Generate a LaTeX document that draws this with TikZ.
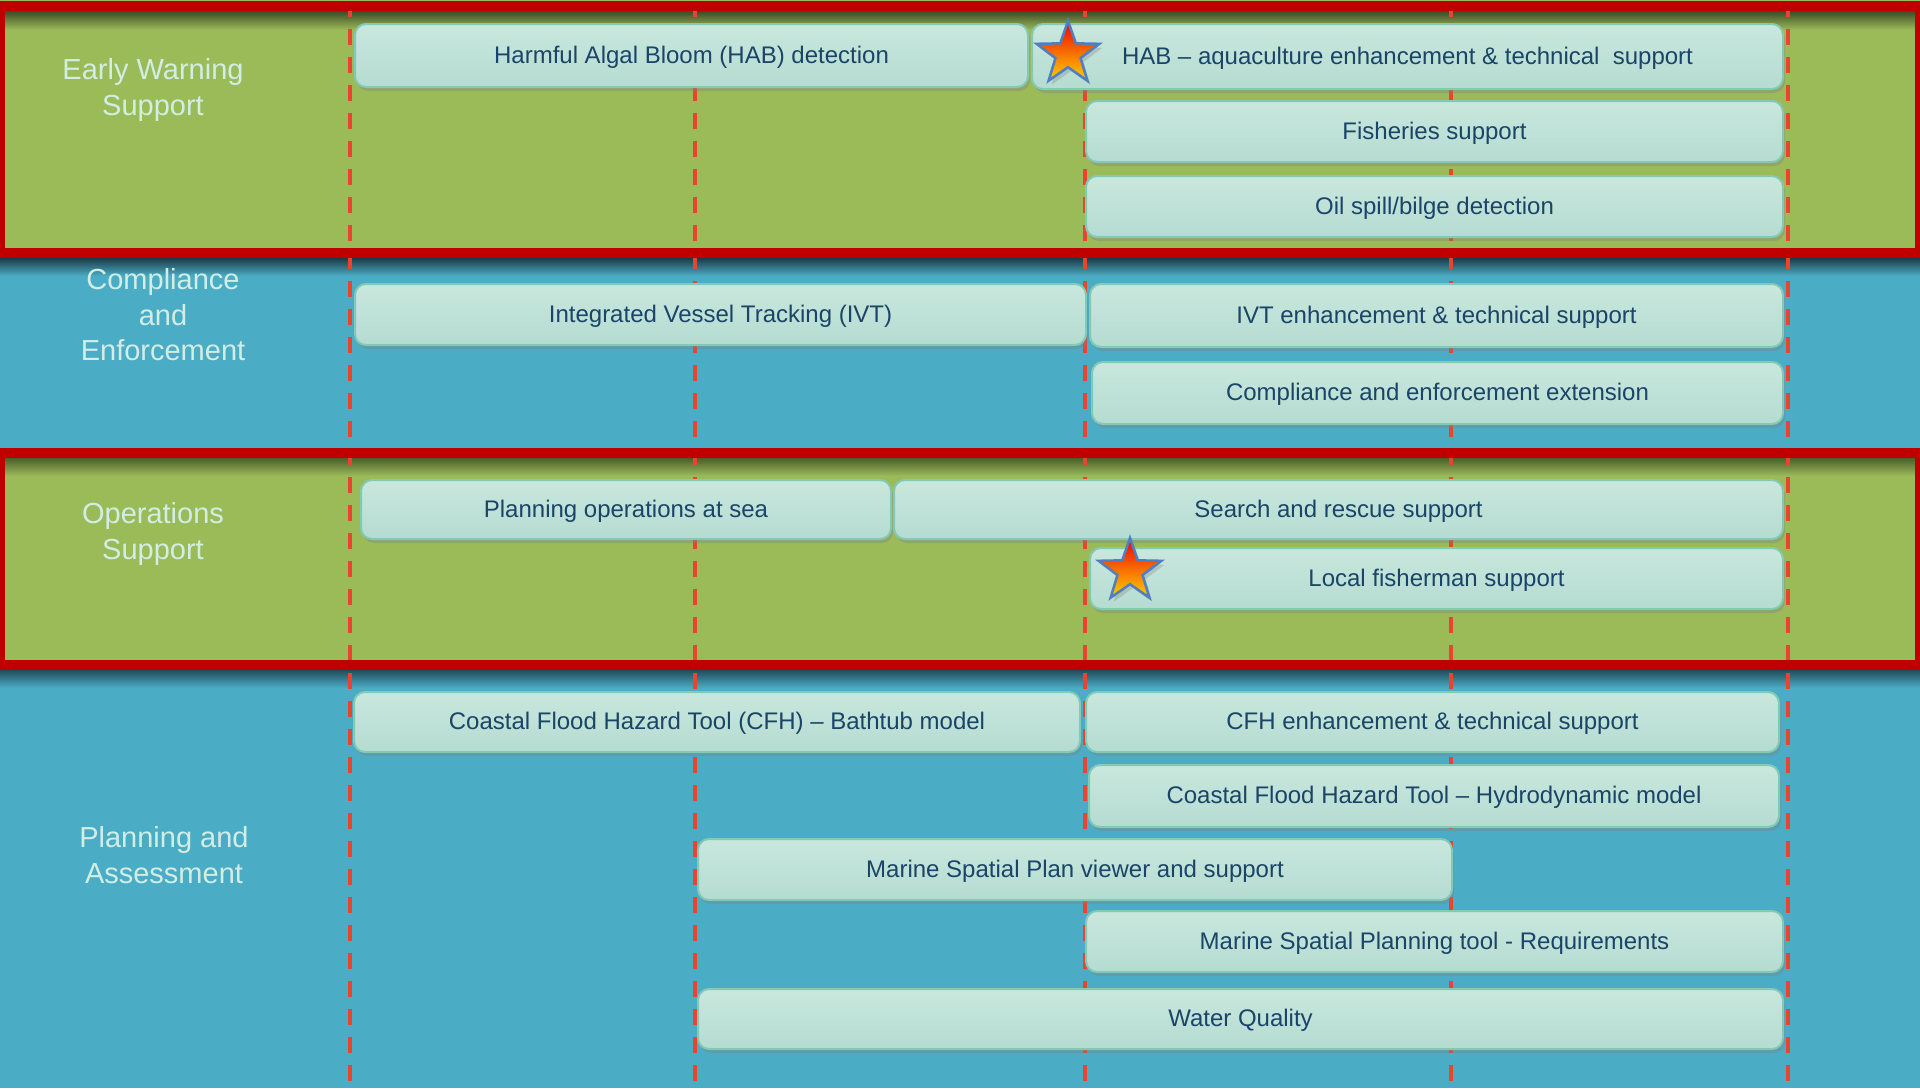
\documentclass[tikz,border=0pt]{standalone}
\usepackage{fontspec}
\setmainfont{Liberation Sans}
\usetikzlibrary{shapes,shadows,positioning}
\definecolor{bandgreen}{HTML}{9BBB59}
\definecolor{bandblue}{HTML}{4BACC6}
\definecolor{framered}{HTML}{C00000}
\definecolor{tickred}{HTML}{E8442F}
\definecolor{boxtop}{HTML}{C9E7DD}
\definecolor{boxbottom}{HTML}{B5DCD1}
\definecolor{boxline}{HTML}{82C9B6}
\definecolor{boxtext}{HTML}{1A4468}
\definecolor{labeltext}{HTML}{D2EDE4}
\definecolor{starline}{HTML}{4F7FC0}
\definecolor{startop}{HTML}{F00000}
\definecolor{starmid}{HTML}{FF6A00}
\definecolor{starbottom}{HTML}{FFD200}

\begin{document}
\begin{tikzpicture}[x=1pt, y=-1pt,
        task/.style = {rectangle, rounded corners=11pt, draw=boxline, line width=2pt,
                       top color=boxtop, bottom color=boxbottom, text=boxtext,
                       inner sep=0pt, text height=15pt, text depth=0pt,
                       font=\fontsize{24}{28}\selectfont,
                       drop shadow={shadow xshift=2pt, shadow yshift=-4pt, opacity=0.35}},
        area/.style = {text=labeltext, align=center, font=\fontsize{29}{35.5}\selectfont},
        bandframe/.style = {draw=framered, line width=10.5pt},
        milestone/.style = {color=tickred, line width=4pt, dash pattern=on 16pt off 12pt},
        award/.style = {star, star points=5, star point ratio=2.5, minimum size=66pt,
                        inner sep=0pt, top color=startop, middle color=starmid,
                        bottom color=starbottom, draw=starline, line width=2.5pt,
                        drop shadow={shadow xshift=3pt, shadow yshift=-4pt, opacity=0.3}}]
    \clip (0,0) rectangle (1920,1088);
    % bands
    \fill[bandgreen] (0,0) rectangle (1920,258);
    \fill[bandblue] (0,258) rectangle (1920,448);
    \fill[bandgreen] (0,448) rectangle (1920,670);
    \fill[bandblue] (0,670) rectangle (1920,1088);
    % shadows under the red bars
    \shade[top color=bandgreen!40!black, bottom color=bandgreen] (0,11) rectangle (1920,30);
    \shade[top color=bandblue!35!black, bottom color=bandblue] (0,258) rectangle (1920,276);
    \shade[top color=bandgreen!50!black, bottom color=bandgreen] (0,458) rectangle (1920,476);
    \shade[top color=bandblue!45!black, bottom color=bandblue] (0,670) rectangle (1920,688);
    % milestones
    \foreach \Xpos in {350, 695, 1085, 1451, 1788}
        \draw[milestone] (\Xpos,1) -- (\Xpos,1088);
    % red frames
    \draw[bandframe] (0,6) rectangle (1920,253);
    \draw[bandframe] (0,453) rectangle (1920,665);
    % area labels
    \node[area] (early) at (153,90) {Early Warning\\Support};
    \node[area] (compliance) at (163,315) {Compliance\\and\\Enforcement};
    \node[area] (operations) at (153,534) {Operations\\Support};
    \node[area] (planning) at (164,855) {Planning and\\Assessment};
    % early warning
    \node[task, minimum width=673pt, minimum height=63pt] (hab) at (691.5,55.5) {Harmful Algal Bloom (HAB) detection};
    \node[task, minimum width=751pt, minimum height=65pt] (habext) at (1407.5,56.5) {HAB -- aquaculture enhancement \& technical\ \ support};
    \node[task, minimum width=697pt, minimum height=61pt] (fish) at (1434.5,131.5) {Fisheries support};
    \node[task, minimum width=697pt, minimum height=61pt] (oil) at (1434.5,206.5) {Oil spill/bilge detection};
    % compliance
    \node[task, minimum width=731pt, minimum height=61pt] (ivt) at (720.5,314.5) {Integrated Vessel Tracking (IVT)};
    \node[task, minimum width=693pt, minimum height=63pt] (ivtext) at (1436.5,315.5) {IVT enhancement \& technical support};
    \node[task, minimum width=691pt, minimum height=62pt] (enforce) at (1437.5,393) {Compliance and enforcement extension};
    % operations
    \node[task, minimum width=530pt, minimum height=59pt] (seaops) at (626,509.5) {Planning operations at sea};
    \node[task, minimum width=889pt, minimum height=59pt] (rescue) at (1338.5,509.5) {Search and rescue support};
    \node[task, minimum width=693pt, minimum height=61pt] (fisherman) at (1436.5,578.5) {Local fisherman support};
    % planning
    \node[task, minimum width=726pt, minimum height=60pt] (cfh) at (717,722) {Coastal Flood Hazard Tool (CFH) -- Bathtub model};
    \node[task, minimum width=693pt, minimum height=60pt] (cfhext) at (1432.5,722) {CFH enhancement \& technical support};
    \node[task, minimum width=690pt, minimum height=62pt] (hydro) at (1434,796) {Coastal Flood Hazard Tool -- Hydrodynamic model};
    \node[task, minimum width=754pt, minimum height=61pt] (mspview) at (1075,869.5) {Marine Spatial Plan viewer and support};
    \node[task, minimum width=697pt, minimum height=61pt] (msptool) at (1434.5,941.5) {Marine Spatial Planning tool - Requirements};
    \node[task, minimum width=1085pt, minimum height=60pt] (water) at (1240.5,1019) {Water Quality};
    % stars
    \node[award] (habstar) at (1068,54) {};
    \node[award] (fishstar) at (1130,571) {};
\end{tikzpicture}
\end{document}
